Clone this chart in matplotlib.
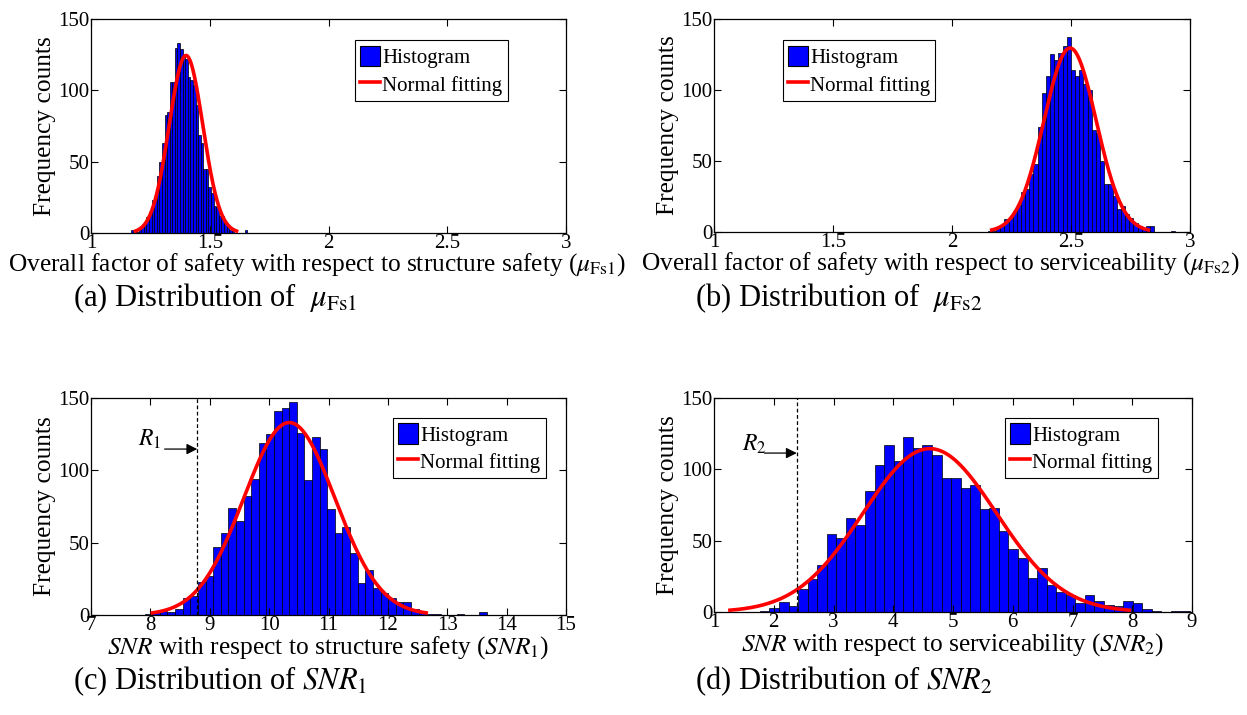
import numpy as np
import matplotlib
matplotlib.use("Agg")
import matplotlib.pyplot as plt
from matplotlib.patches import Patch
from matplotlib.lines import Line2D

plt.rcParams["font.family"] = "Liberation Serif"
plt.rcParams["mathtext.fontset"] = "stix"

# ---------------- data ----------------
# (a) overall factor of safety, structure safety: 45 bins
a_range = (1.168, 1.658)
a_counts = [2, 1, 1, 3, 4, 6, 11, 15, 23, 24, 40, 50, 63, 83, 85, 106, 106, 130,
            133, 129, 124, 122, 109, 107, 104, 90, 69, 63, 45, 45, 32, 28, 19, 18,
            12, 12, 7, 4, 2, 2, 0, 0, 0, 0, 2]
a_fit = (1.400, 0.0709)

# (b) overall factor of safety, serviceability: 45 bins
b_range = (2.150, 2.937)
b_counts = [1, 1, 3, 5, 9, 10, 15, 19, 28, 30, 41, 48, 74, 98, 110, 125, 121, 126,
            131, 137, 114, 110, 114, 104, 100, 72, 70, 50, 34, 34, 25, 16, 18, 13,
            10, 6, 4, 2, 4, 4, 0, 0, 0, 0, 1]
b_fit = (2.496, 0.1097)

# (c) SNR, structure safety: 45 bins
c_range = (7.904, 13.67)
c_counts = [1, 2, 3, 2, 4, 12, 13, 23, 27, 47, 57, 74, 65, 82, 94, 119, 125, 141,
            143, 147, 126, 93, 123, 115, 73, 57, 61, 43, 22, 31, 19, 15, 12, 9, 9,
            4, 2, 1, 1, 0, 0, 1, 0, 0, 2]
c_fit = (10.34, 0.7685)
c_threshold = 8.79

# (d) SNR, serviceability: 45 bins
d_range = (1.768, 8.968)
d_counts = [1, 3, 7, 4, 16, 23, 33, 55, 52, 66, 61, 85, 103, 117, 106, 123, 115,
            117, 110, 94, 94, 87, 89, 72, 73, 57, 44, 38, 24, 31, 19, 14, 12, 6, 12,
            8, 5, 4, 8, 6, 2, 1, 0, 1, 1]
d_fit = (4.61, 1.1144)
d_threshold = 2.385

a_xticks = [1, 1.5, 2, 2.5, 3]
a_xticklabels = ["1", "1.5", "2", "2.5", "3"]
c_xticks = [7, 8, 9, 10, 11, 12, 13, 14, 15]
d_xticks = [1, 2, 3, 4, 5, 6, 7, 8, 9]
yticks = [0, 50, 100, 150]

W, H = 1247, 715
fig = plt.figure(figsize=(W / 100, H / 100), dpi=100)


def box(left, top, right, bottom):
    return [left / W, 1 - bottom / H, (right - left) / W, (bottom - top) / H]


def panel(rect, rng, counts, fit, xlim, xticks, xticklabels, xlabel, leg_xy,
          xlabel_pos):
    ax = fig.add_axes(rect)
    counts = np.asarray(counts, dtype=float)
    edges = np.linspace(rng[0], rng[1], len(counts) + 1)
    centers = 0.5 * (edges[:-1] + edges[1:])
    bw = edges[1] - edges[0]
    ax.hist(centers, bins=edges, weights=counts, color="#0000ff",
            edgecolor="black", linewidth=0.5, label="Histogram")
    mu, sd = fit
    xs = np.linspace(mu - 3 * sd, mu + 3 * sd, 300)
    ys = counts.sum() * bw * np.exp(-0.5 * ((xs - mu) / sd) ** 2) / (sd * np.sqrt(2 * np.pi))
    ax.plot(xs, ys, color="red", lw=2.6, label="Normal fitting", zorder=4)
    ax.set_xlim(*xlim)
    ax.set_ylim(0, 150)
    ax.set_xticks(xticks)
    ax.set_xticklabels(xticklabels)
    ax.set_yticks(yticks)
    ax.tick_params(direction="in", top=True, right=True, length=5, width=0.8,
                   labelsize=15, pad=1)
    for s in ax.spines.values():
        s.set_linewidth(0.9)
    ax.set_xlabel(xlabel, fontsize=18.3)
    ax.set_ylabel("Frequency counts", fontsize=18.3)
    ax.xaxis.set_label_coords(*xlabel_pos)
    ax.yaxis.set_label_coords(-35 / (rect[2] * W), 0.5)
    handles = [Patch(facecolor="#0000ff", edgecolor="black", linewidth=0.8),
               Line2D([], [], color="red", lw=2.6)]
    leg = ax.legend(handles, ["Histogram", "Normal fitting"], loc="upper left",
                    bbox_to_anchor=leg_xy, borderaxespad=0, fontsize=15,
                    fancybox=False, framealpha=1, edgecolor="black",
                    handlelength=0.95, handleheight=1.15, handletextpad=0.1,
                    borderpad=0.25, labelspacing=0.25)
    leg.get_frame().set_linewidth(0.8)
    return ax


ax_a = panel(box(91, 19, 566, 233), a_range, a_counts, a_fit, (1, 3),
             a_xticks, a_xticklabels,
             r"Overall factor of safety with respect to structure safety ($\mu_{\rm Fs1}$)",
             (0.556, 0.90), (0.476, -0.086))
ax_b = panel(box(714, 19, 1190, 232), b_range, b_counts, b_fit, (1, 3),
             a_xticks, a_xticklabels,
             r"Overall factor of safety with respect to serviceability ($\mu_{\rm Fs2}$)",
             (0.145, 0.90), (0.475, -0.086))
ax_c = panel(box(91, 398, 566, 615), c_range, c_counts, c_fit, (7, 15),
             c_xticks, [str(t) for t in c_xticks],
             r"$SNR$ with respect to structure safety ($SNR_1$)",
             (0.636, 0.908), (0.5, -0.088))
ax_d = panel(box(714, 398, 1192, 612), d_range, d_counts, d_fit, (1, 9),
             d_xticks, [str(t) for t in d_xticks],
             r"$SNR$ with respect to serviceability ($SNR_2$)",
             (0.609, 0.907), (0.5, -0.088))

# thresholds with arrows
for ax, thr, y_arrow, x_text, x_tail, lab in [
        (ax_c, c_threshold, 114.7, 7.786, 8.24, r"$R_1$"),
        (ax_d, d_threshold, 111.4, 1.476, 1.844, r"$R_2$")]:
    ax.axvline(thr, color="black", lw=0.9, ls=(0, (3, 2)), zorder=5)
    ax.annotate("", xy=(thr, y_arrow), xytext=(x_tail, y_arrow),
                arrowprops=dict(arrowstyle="-|>", color="black", lw=0.9,
                                mutation_scale=16, shrinkA=0, shrinkB=0))
    ax.text(x_text, y_arrow + 2, lab, fontsize=17, ha="left", va="baseline")

# panel captions
cap_kw = dict(fontsize=22, va="center", ha="left")
fig.text(73 / W, 1 - 298 / H, r"(a) Distribution of  $\mu_{\rm Fs1}$", **cap_kw)
fig.text(695 / W, 1 - 298 / H, r"(b) Distribution of  $\mu_{\rm Fs2}$", **cap_kw)
fig.text(73 / W, 1 - 681 / H, r"(c) Distribution of $SNR_1$", **cap_kw)
fig.text(695 / W, 1 - 681 / H, r"(d) Distribution of $SNR_2$", **cap_kw)

fig.savefig("out.png", dpi=100)
